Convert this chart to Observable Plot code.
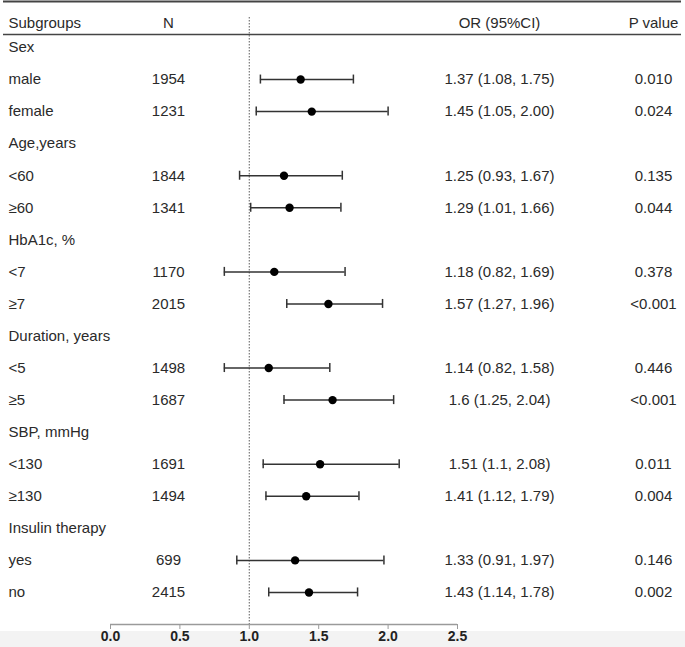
<!DOCTYPE html>
<html>
<head>
<meta charset="utf-8">
<script src="https://cdn.jsdelivr.net/npm/d3@7"></script>
<script src="https://cdn.jsdelivr.net/npm/@observablehq/plot@0.6"></script>
<style>
  body { margin: 0; background: #fff; }
</style>
</head>
<body>
<div id="chart"></div>
<script>
const headers = ["Subgroups", "N", "OR (95%CI)", "P value"];
const labels = ["Sex", "male", "female", "Age,years", "<60", "≥60", "HbA1c, %", "<7", "≥7",
  "Duration, years", "<5", "≥5", "SBP, mmHg", "<130", "≥130", "Insulin therapy", "yes", "no"];
const counts = [null, 1954, 1231, null, 1844, 1341, null, 1170, 2015, null, 1498, 1687, null, 1691, 1494, null, 699, 2415];
const ors = [null, 1.37, 1.45, null, 1.25, 1.29, null, 1.18, 1.57, null, 1.14, 1.6, null, 1.51, 1.41, null, 1.33, 1.43];
const lows = [null, 1.08, 1.05, null, 0.93, 1.01, null, 0.82, 1.27, null, 0.82, 1.25, null, 1.1, 1.12, null, 0.91, 1.14];
const highs = [null, 1.75, 2.00, null, 1.67, 1.66, null, 1.69, 1.96, null, 1.58, 2.04, null, 2.08, 1.79, null, 1.97, 1.78];
const orLabels = ["", "1.37 (1.08, 1.75)", "1.45 (1.05, 2.00)", "", "1.25 (0.93, 1.67)", "1.29 (1.01, 1.66)", "",
  "1.18 (0.82, 1.69)", "1.57 (1.27, 1.96)", "", "1.14 (0.82, 1.58)", "1.6 (1.25, 2.04)", "",
  "1.51 (1.1, 2.08)", "1.41 (1.12, 1.79)", "", "1.33 (0.91, 1.97)", "1.43 (1.14, 1.78)"];
const pLabels = ["", "0.010", "0.024", "", "0.135", "0.044", "", "0.378", "<0.001", "", "0.446", "<0.001", "",
  "0.011", "0.004", "", "0.146", "0.002"];
const xTicks = [0, 0.5, 1, 1.5, 2, 2.5];
const refValue = 1;

const rows = labels.map((label, i) => ({
  i, label, n: counts[i], or: ors[i], lo: lows[i], hi: highs[i], orText: orLabels[i], p: pLabels[i]
}));
const est = rows.filter(d => d.or != null);
const nRows = labels.length;

const font = "'Liberation Sans', Arial, Helvetica, sans-serif";
const ink = "#2a2a2a";
const textStyle = {fontSize: 15, fill: ink, frameAnchor: "left", y: "i"};

const chart = Plot.plot({
  width: 685,
  height: 647,
  marginTop: 17,
  marginBottom: 23,
  marginLeft: 3,
  marginRight: 4,
  style: {
    fontFamily: font,
    background: "linear-gradient(to bottom, #ffffff 631px, #f3f3f3 631px)",
    color: ink
  },
  x: {domain: [0, 2.5], range: [110, 457]},
  y: {domain: [0, nRows], range: [47, 624], axis: null},
  marks: [
    // top border and header rule
    Plot.ruleY([0], {dy: -46, stroke: "#444", strokeWidth: 2}),
    Plot.ruleY([0], {dy: -13, stroke: "#444", strokeWidth: 1.5}),
    // reference line
    Plot.ruleX([refValue], {stroke: "#777", strokeWidth: 1.2, strokeDasharray: "1.5,1.5"}),
    // axis line
    Plot.ruleY([nRows], {x1: 0, x2: 2.5, stroke: "#9a9a9a", strokeWidth: 1.5}),
    Plot.axisX({
      ticks: xTicks, tickFormat: d3.format(".1f"), anchor: "bottom",
      tickSize: 5, tickPadding: 2, stroke: "#9a9a9a", fill: "#222",
      fontSize: 14, fontWeight: "bold", label: null
    }),
    // headers
    Plot.text([headers[0]], {text: d => d, frameAnchor: "top-left", dx: 5, textAnchor: "start", fontSize: 15, fill: ink}),
    Plot.text([headers[1]], {text: d => d, frameAnchor: "top-left", dx: 165, textAnchor: "middle", fontSize: 15, fill: ink}),
    Plot.text([headers[2]], {text: d => d, frameAnchor: "top-left", dx: 496, textAnchor: "middle", fontSize: 15, fill: ink}),
    Plot.text([headers[3]], {text: d => d, frameAnchor: "top-left", dx: 650, textAnchor: "middle", fontSize: 15, fill: ink}),
    // table columns
    Plot.text(rows, {...textStyle, text: "label", dx: 5, textAnchor: "start"}),
    Plot.text(est, {...textStyle, text: d => String(d.n), dx: 165, textAnchor: "middle"}),
    Plot.text(est, {...textStyle, text: "orText", dx: 496, textAnchor: "middle"}),
    Plot.text(est, {...textStyle, text: "p", dx: 650, textAnchor: "middle"}),
    // CI bars
    Plot.ruleY(est, {y: "i", x1: "lo", x2: "hi", stroke: "#333", strokeWidth: 1.5}),
    Plot.ruleX(est, {x: "lo", y1: "i", y2: "i", insetTop: -4.5, insetBottom: -4.5, stroke: "#333", strokeWidth: 1.5}),
    Plot.ruleX(est, {x: "hi", y1: "i", y2: "i", insetTop: -4.5, insetBottom: -4.5, stroke: "#333", strokeWidth: 1.5}),
    Plot.dot(est, {x: "or", y: "i", r: 4.2, fill: "#000", stroke: "none"})
  ]
});
document.getElementById("chart").appendChild(chart);
</script>
</body>
</html>
